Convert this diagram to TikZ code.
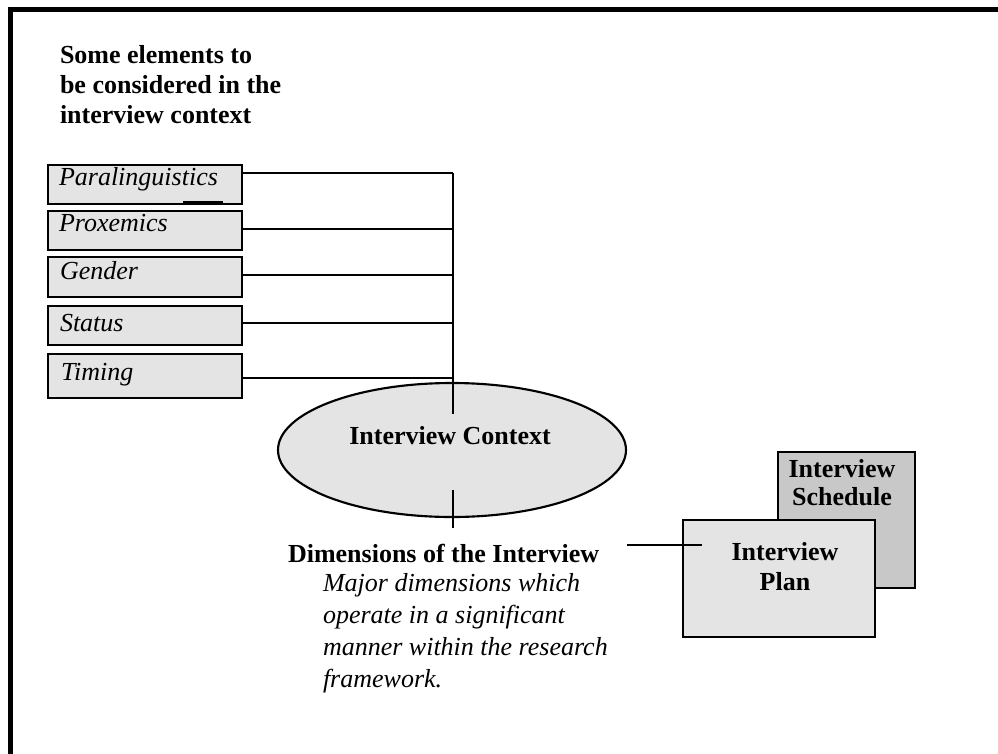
\documentclass[tikz,border=0pt]{standalone}
\usepackage{fontspec}
\setmainfont{Liberation Serif}
\usetikzlibrary{shapes.geometric,calc}
\definecolor{boxgray}{RGB}{228,228,228}
\definecolor{schedgray}{RGB}{200,200,200}
\begin{document}
\begin{tikzpicture}[x=0.75pt,y=-0.75pt,
  every node/.style={inner sep=0pt, outer sep=0pt},
  bld/.style={font=\fontsize{19.5}{22.5}\selectfont\bfseries},
  itl/.style={font=\fontsize{19.5}{24}\selectfont\itshape},
  elbox/.style={draw, line width=2pt, fill=boxgray, minimum width=145.5pt},
  conn/.style={line width=1.6pt},
  frame/.style={line width=3.75pt}]
\useasboundingbox (0,0) rectangle (998,753);
% frame
\draw[frame] (10.5,770) -- (10.5,9.5) -- (1010,9.5);
% heading (base anchor = last line)
\node[bld, anchor=base west, align=left] (head) at (60,123) {Some elements to\\be considered in the\\interview context};
% element boxes
\node[elbox, minimum height=29.25pt] (b1) at (145,184.5) {};
\node[elbox, minimum height=29.25pt] (b2) at (145,230.5) {};
\node[elbox, minimum height=30pt] (b3) at (145,277) {};
\node[elbox, minimum height=29.25pt] (b4) at (145,325.5) {};
\node[elbox, minimum height=33pt] (b5) at (145,376) {};
\draw[line width=1.5pt] (183,201.5) -- (223,201.5);
\node[itl, anchor=base west] (t1) at (59,185) {Paralinguistics};
\node[itl, anchor=base west] (t2) at (59,231) {Proxemics};
\node[itl, anchor=base west] (t3) at (60,279) {Gender};
\node[itl, anchor=base west] (t4) at (60,331) {Status};
\node[itl, anchor=base west] (t5) at (61,380) {Timing};
% ellipse
\node[ellipse, draw, line width=1.6pt, fill=boxgray, minimum width=261pt, minimum height=100.5pt] (ctx) at (452,450) {};
\node[bld, anchor=base] (ctxt) at (450,444) {Interview Context};
% spine
\coordinate (j1) at (453,173);
\coordinate (j2) at (453,229);
\coordinate (j3) at (453,275);
\coordinate (j4) at (453,323);
\coordinate (j5) at (453,378);
\coordinate (spb) at (453,414);
\draw[conn] (b1.east |- j1) -- (j1);
\draw[conn] (b2.east |- j2) -- (j2);
\draw[conn] (b3.east |- j3) -- (j3);
\draw[conn] (b4.east |- j4) -- (j4);
\draw[conn] (b5.east |- j5) -- (j5);
\draw[conn] (j1) -- (spb);
\coordinate (lb1) at (453,490);
\coordinate (lb2) at (453,528);
\draw[conn] (lb1) -- (lb2);
% dimensions
\node[bld, anchor=base west] (dims) at (288,562) {Dimensions of the Interview};
\node[itl, anchor=base west, align=left] (desc) at (323,687) {Major dimensions which\\operate in a significant\\manner within the research\\framework.};
% schedule and plan
\node[draw, line width=2pt, fill=schedgray, minimum width=102.75pt, minimum height=102pt] (sched) at (846.5,520) {};
\node[bld, anchor=base, align=center, font=\fontsize{19.5}{21}\selectfont\bfseries] (schedt) at (842,505) {Interview\\Schedule};
\node[draw, line width=2pt, fill=boxgray, minimum width=144pt, minimum height=87.75pt] (plan) at (779,578.5) {};
\node[bld, anchor=base, align=center] (plant) at (785,590) {Interview\\Plan};
\coordinate (dl) at (627,545);
\coordinate (dr) at (702,545);
\draw[conn] (dl) -- (dr);
\end{tikzpicture}
\end{document}
